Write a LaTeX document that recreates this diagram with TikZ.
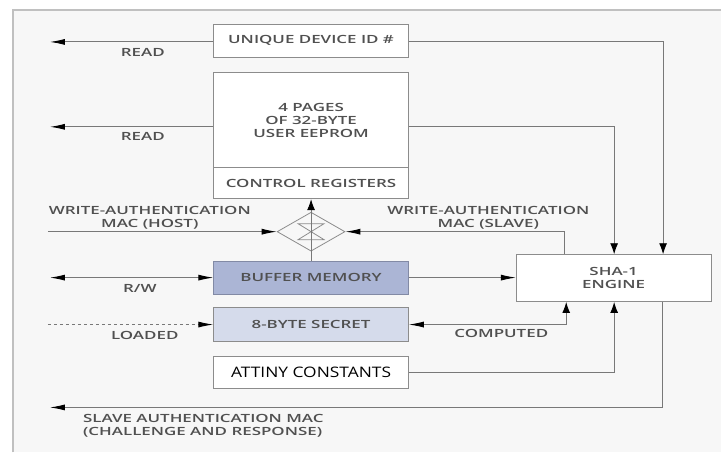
\documentclass[tikz,border=0pt]{standalone}
\usepackage{fontspec}
\setmainfont{Open Sans}[FakeStretch=1.5, BoldFont={Open Sans Semibold}, BoldFeatures={FakeStretch=1.5}]
\newfontfamily\constfont{Open Sans}[FakeStretch=1.2]
\usetikzlibrary{arrows.meta,positioning,shapes.geometric,calc}
\definecolor{fundo}{RGB}{247,247,247}
\definecolor{moldura}{RGB}{192,192,192}
\definecolor{caixa}{RGB}{140,140,140}
\definecolor{fio}{RGB}{120,120,120}
\definecolor{texto}{RGB}{80,80,80}
\definecolor{bufazul}{RGB}{171,181,213}
\definecolor{bufborda}{RGB}{130,138,165}
\definecolor{secazul}{RGB}{213,219,235}
\tikzset{
    htip/.tip={Latex[length=15pt,width=6pt,color=black]},
    vtip/.tip={Latex[length=11pt,width=8pt,color=black]}
}

\begin{document}
\begin{tikzpicture}[x=1pt, y=-1pt,
    font=\bfseries\fontsize{11.3}{12.8}\selectfont,
    block/.style={draw=caixa, line width=0.8pt, fill=white, minimum width=195pt,
        inner sep=0pt, text=texto, align=center},
    wire/.style={draw=fio, line width=0.9pt},
    lbl/.style={text=texto, inner sep=0pt, align=center}]
    % Fundo e moldura
    \fill[white] (0,0) rectangle (722,453);
    \fill[fundo] (13,10) rectangle (722,453);
    \draw[moldura, line width=2pt] (13,453) -- (13,10) -- (722,10);

    % Blocos de memoria
    \node[block, minimum height=33pt] (uid) at (311.5,40.5) {UNIQUE DEVICE ID \#};
    \node[block, minimum height=95pt] (mem) at (311.5,120.5) {4 PAGES\\OF 32-BYTE\\USER EEPROM};
    \node[block, minimum height=31pt] (ctrl) at (311.5,183.5) {CONTROL REGISTERS};
    \node[block, minimum height=33pt, fill=bufazul, draw=bufborda] (buf) at (311.5,278) {BUFFER MEMORY};
    \node[block, minimum height=34pt, fill=secazul] (secret) at (311.5,325) {8-BYTE SECRET};
    \node[block, minimum height=32pt, text=black, font=\constfont\fontsize{14.5}{16}\selectfont] (consts) at (311.5,373) {ATTINY CONSTANTS};
    \node[block, minimum height=47pt] (sha) at (614.5,278.5) {SHA-1\\ENGINE};

    % Multiplexador
    \node[diamond, draw=caixa, line width=0.8pt, minimum width=68pt, minimum height=39pt, inner sep=0pt] (mux) at (311.5,232) {};
    \draw[caixa, line width=0.8pt] ($(mux.center)+(-13,-8)$) -- ++(26,0) -- ($(mux.center)+(-13,8)$) -- ++(26,0) -- cycle;

    % Pontas livres
    \coordinate (readA) at (50,42);
    \coordinate (readB) at (50,127);
    \coordinate (hostIn) at (48,232);
    \coordinate (rwEnd) at (50,278);
    \coordinate (loadIn) at (48,325);
    \coordinate (slaveOut) at (50,408);

    % Ligacoes
    \draw[wire, -htip] (uid.west |- readA) -- (readA);
    \draw[wire, -htip] (mem.west |- readB) -- (readB);
    \draw[wire, -vtip] (uid.east |- readA) -| ([xshift=49.5pt]sha.north);
    \draw[wire, -vtip] (mem.east |- readB) -| ([xshift=0.5pt]sha.north);
    \draw[wire] (buf.north) -- (mux.north);
    \draw[wire, -vtip] (mux.north) -- (ctrl.south);
    \draw[wire, -htip] (hostIn) -- (mux.west);
    \draw[wire, -htip] ([xshift=-49.5pt]sha.north) |- (mux.east);
    \draw[wire, htip-htip] (rwEnd) -- (buf.west);
    \draw[wire, -htip] (buf.east) -- (sha.west |- buf.east);
    \draw[wire, -htip, dashed] (loadIn) -- (secret.west);
    \draw[wire, htip-vtip] (secret.east) -| ([xshift=-47.5pt]sha.south);
    \draw[wire, -vtip] (consts.east) -| ([xshift=0.5pt]sha.south);
    \draw[wire, -htip] ([xshift=48.5pt]sha.south) |- (slaveOut);

    % Rotulos
    \node[lbl] (lread1) at (143,53) {READ};
    \node[lbl] (lread2) at (143,137) {READ};
    \node[lbl] (lhost) at (150,218) {WRITE-AUTHENTICATION\\MAC (HOST)};
    \node[lbl] (lslave) at (489,218) {WRITE-AUTHENTICATION\\MAC (SLAVE)};
    \node[lbl] (lrw) at (140,289) {R/W};
    \node[lbl] (lload) at (145,336) {LOADED};
    \node[lbl] (lcomp) at (502,334) {COMPUTED};
    \node[lbl, anchor=west, align=left] (lmac) at (83,426) {SLAVE AUTHENTICATION MAC\\(CHALLENGE AND RESPONSE)};
\end{tikzpicture}
\end{document}
